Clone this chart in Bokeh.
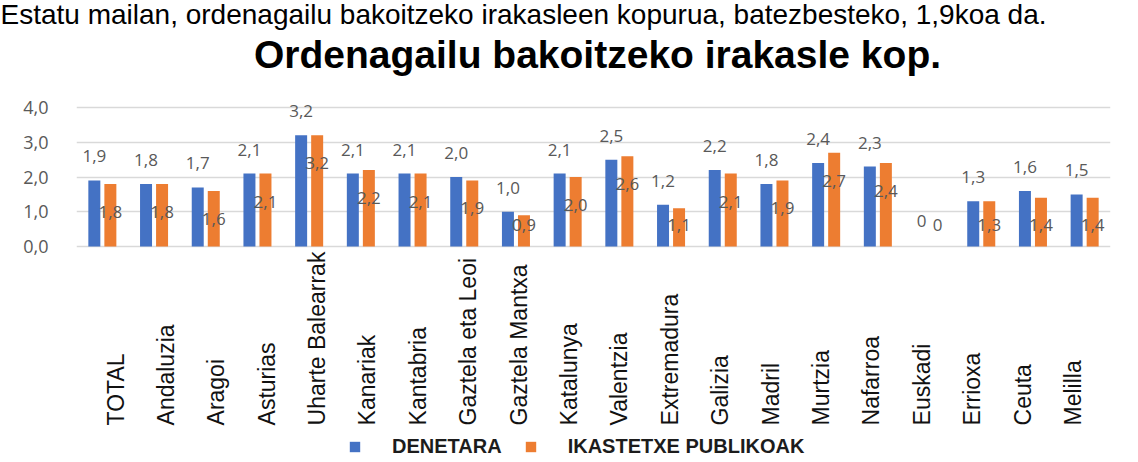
from math import pi
from bokeh.plotting import figure
from bokeh.layouts import column
from bokeh.models import (Range1d, FixedTicker, ColumnDataSource, Legend, LegendItem)
from bokeh.transform import dodge
from bokeh.core.properties import value
from bokeh.embed import file_html
from bokeh.resources import INLINE

# ---------------- data ----------------
categories = ["TOTAL", "Andaluzia", "Aragoi", "Asturias", "Uharte Balearrak", "Kanariak",
              "Kantabria", "Gaztela eta Leoi", "Gaztela Mantxa", "Katalunya", "Valentzia",
              "Extremadura", "Galizia", "Madril", "Murtzia", "Nafarroa", "Euskadi",
              "Errioxa", "Ceuta", "Melilla"]
denetara = [1.9, 1.8, 1.7, 2.1, 3.2, 2.1, 2.1, 2.0, 1.0, 2.1, 2.5, 1.2, 2.2, 1.8, 2.4, 2.3, 0, 1.3, 1.6, 1.5]
publikoak = [1.8, 1.8, 1.6, 2.1, 3.2, 2.2, 2.1, 1.9, 0.9, 2.0, 2.6, 1.1, 2.1, 1.9, 2.7, 2.4, 0, 1.3, 1.4, 1.4]
series_names = ["DENETARA", "IKASTETXE PUBLIKOAK"]
y_ticks = [0, 1, 2, 3, 4]
subtitle = "Estatu mailan, ordenagailu bakoitzeko irakasleen kopurua, batezbesteko, 1,9koa da."
title = "Ordenagailu bakoitzeko irakasle kop."

BLUE = "#4472C4"
ORANGE = "#ED7D31"
LABEL_GREY = "#595959"
PX_PER_UNIT = 34.75
W = 1138
TOP_H = 78
MAIN_H = 462 - TOP_H


def fmt(v):
    return "0" if v == 0 else f"{v:.1f}".replace(".", ",")


# ---------------- heading strip ----------------
head = figure(width=W, height=TOP_H, x_range=Range1d(0, W), y_range=Range1d(TOP_H, 0),
              x_axis_type=None, y_axis_type=None, output_backend="svg",
              toolbar_location=None, min_border=0)
head.frame_align = False
head.outline_line_color = None
head.grid.visible = False
head.text(x=[0], y=[14], text=[subtitle], text_align="left", text_baseline="alphabetic",
          text_font=value("Liberation Sans"), text_font_size="28px", text_color="#000000")
head.text(x=[597], y=[54], text=[title], text_align="center", text_baseline="alphabetic",
          text_font=value("Liberation Sans"), text_font_style="bold",
          text_font_size="39px", text_color="#000000")

# ---------------- main chart ----------------
n = len(categories)
src = ColumnDataSource(dict(
    xc=[i + 0.5 for i in range(n)],
    d=denetara,
    o=publikoak,
    dlab=[fmt(v) for v in denetara],
    olab=[fmt(v) for v in publikoak],
    doff=[-24 if v else -26 for v in denetara],
    ooff=[min(28, v * PX_PER_UNIT - 22) for v in publikoak],
))
lab_src = ColumnDataSource(dict(i=list(range(n)), name=categories))

p = figure(width=W, height=MAIN_H,
           x_range=Range1d(0, n),
           y_range=Range1d(-6.216, 4.835),
           x_axis_type=None,
           output_backend="svg", toolbar_location=None,
           min_border_left=76, min_border_right=28, min_border_top=0, min_border_bottom=0)
p.frame_align = False
p.outline_line_color = None
p.background_fill_color = "white"

# separate range for the (slightly differently spaced) category labels
p.extra_x_ranges = {"lab": Range1d(-0.774, 19.746)}

r1 = p.vbar(x=dodge("xc", -0.155), top="d", width=0.232, source=src,
            fill_color=BLUE, line_color=None)
r2 = p.vbar(x=dodge("xc", 0.155), top="o", width=0.232, source=src,
            fill_color=ORANGE, line_color=None)

# data labels
p.text(x=dodge("xc", -0.155), y="d", text="dlab", y_offset="doff", source=src,
       text_align="center", text_baseline="middle", text_font=value("Open Sans"),
       text_font_size="17px", text_color=LABEL_GREY)
p.text(x=dodge("xc", 0.155), y="o", text="olab", y_offset="ooff", source=src,
       text_align="center", text_baseline="middle", text_font=value("Open Sans"),
       text_font_size="17px", text_color=LABEL_GREY)

# category labels (vertical, bottom aligned)
p.text(x="i", y=-5.15, text="name", source=lab_src, x_range_name="lab",
       angle=pi / 2, text_align="left", text_baseline="middle",
       text_font=value("Liberation Sans"), text_font_size="23px", text_color="#111111")

# axes & grid
p.yaxis.ticker = FixedTicker(ticks=y_ticks)
p.ygrid.ticker = FixedTicker(ticks=y_ticks)
p.yaxis.major_label_overrides = {t: f"{t:.1f}".replace(".", ",") for t in y_ticks}
p.yaxis.axis_line_color = None
p.yaxis.major_tick_line_color = None
p.yaxis.minor_tick_line_color = None
p.yaxis.major_label_standoff = 22
p.yaxis.major_label_text_font = "Open Sans"
p.yaxis.major_label_text_font_size = "18px"
p.yaxis.major_label_text_color = LABEL_GREY
p.ygrid.grid_line_color = "#d9d9d9"
p.ygrid.grid_line_width = 1.6

legend = Legend(items=[LegendItem(label=series_names[0], renderers=[r1]),
                       LegendItem(label=series_names[1], renderers=[r2])],
                orientation="horizontal", location=(272, 4),
                padding=0, margin=0, spacing=22, label_standoff=31,
                glyph_width=13, glyph_height=13, label_height=20,
                border_line_color=None, background_fill_alpha=0,
                label_text_font="Liberation Sans", label_text_font_style="bold",
                label_text_font_size="20px", label_text_color="#1c1c1c")
p.add_layout(legend)

layout = column(head, p, spacing=0)
open("out.html", "w").write(file_html(layout, INLINE))
